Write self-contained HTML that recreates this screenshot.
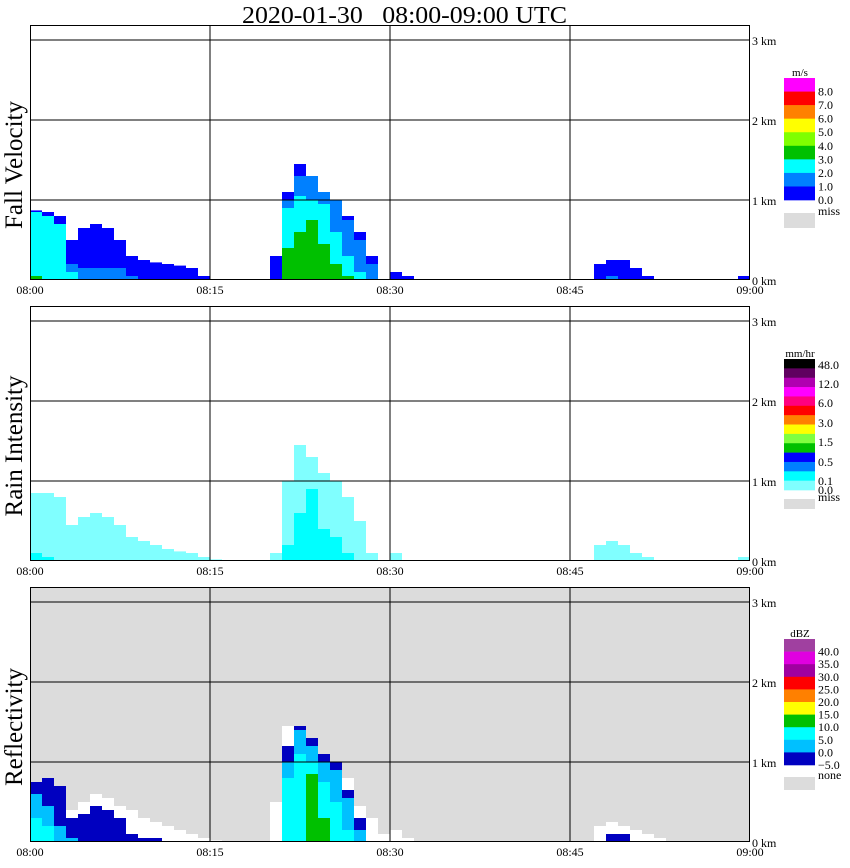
<!DOCTYPE html>
<html><head><meta charset="utf-8"><style>
html,body{margin:0;padding:0;background:#fff;}
svg{display:block;font-family:"Liberation Serif",serif;}
</style></head><body>
<svg id="chart" width="850" height="868" xmlns="http://www.w3.org/2000/svg">
<text x="242" y="23" font-size="24" style="white-space:pre" textLength="325" lengthAdjust="spacingAndGlyphs">2020-01-30   08:00-09:00 UTC</text>
</svg>
<script>
// ---- data: per-minute layer top heights (km), minutes 0..59 ----
const minutes = Array.from({length:60},(_,i)=>i);
const timeTicks = ["08:00","08:15","08:30","08:45","09:00"];
const kmTicks = ["0 km","1 km","2 km","3 km"];
// Fall velocity layers
const fvBlue  = [0.87,0.85,0.8,0.5,0.65,0.7,0.65,0.5,0.3,0.25,0.22,0.2,0.18,0.15,0.05,0,0,0,0,0,0.3,1.1,1.45,1.3,1.1,0.95,0.8,0.6,0.3,0,0.1,0.05,0,0,0,0,0,0,0,0,0,0,0,0,0,0,0,0.2,0.25,0.25,0.15,0.05,0,0,0,0,0,0,0,0.05];
const fvLight = [0.85,0.8,0.7,0.2,0.15,0.15,0.15,0.15,0.05,0,0,0,0,0,0,0,0,0,0,0,0,1.0,1.3,1.3,1.1,1.0,0.75,0.5,0.2,0,0,0,0,0,0,0,0,0,0,0,0,0,0,0,0,0,0,0,0.05,0,0,0,0,0,0,0,0,0,0,0];
const fvCyan  = [0.85,0.8,0.7,0.1,0,0,0,0,0,0,0,0,0,0,0,0,0,0,0,0,0,0.9,1.05,1.0,0.95,0.6,0.3,0.1,0,0,0,0,0,0,0,0,0,0,0,0,0,0,0,0,0,0,0,0,0,0,0,0,0,0,0,0,0,0,0,0];
const fvGreen = [0.05,0,0,0,0,0,0,0,0,0,0,0,0,0,0,0,0,0,0,0,0,0.4,0.6,0.75,0.45,0.2,0.05,0,0,0,0,0,0,0,0,0,0,0,0,0,0,0,0,0,0,0,0,0,0,0,0,0,0,0,0,0,0,0,0,0];
// Rain intensity layers
const riLight = [0.85,0.85,0.8,0.45,0.55,0.6,0.55,0.45,0.3,0.25,0.2,0.15,0.12,0.1,0.05,0.02,0,0,0,0,0.1,1.0,1.45,1.3,1.1,1.0,0.8,0.5,0.1,0,0.1,0,0,0,0,0,0,0,0,0,0,0,0,0,0,0,0,0.2,0.25,0.2,0.1,0.05,0,0,0,0,0,0,0,0.05];
const riCyan  = [0.1,0.05,0,0,0,0,0,0,0,0,0,0,0,0,0,0,0,0,0,0,0,0.2,0.6,0.9,0.4,0.3,0.1,0,0,0,0,0,0,0,0,0,0,0,0,0,0,0,0,0,0,0,0,0,0,0,0,0,0,0,0,0,0,0,0,0];
// Reflectivity layers
const rfWhite = [0.75,0.8,0.7,0.4,0.5,0.6,0.55,0.45,0.4,0.3,0.25,0.2,0.15,0.1,0.05,0.02,0,0,0,0,0.5,1.45,1.45,1.3,1.05,0.95,0.8,0.45,0.3,0.1,0.15,0.05,0,0,0,0,0,0,0,0,0,0,0,0,0,0,0,0.2,0.25,0.2,0.15,0.1,0.05,0,0,0,0,0,0,0];
const rfDark  = [0.75,0.8,0.7,0.3,0.35,0.45,0.4,0.3,0.1,0.05,0.05,0,0,0,0,0,0,0,0,0,0,1.2,1.45,1.3,1.1,1.0,0.65,0.3,0,0,0,0,0,0,0,0,0,0,0,0,0,0,0,0,0,0,0,0,0.1,0.1,0,0,0,0,0,0,0,0,0,0];
const rfLight = [0.6,0.45,0.2,0.05,0,0,0,0,0,0,0,0,0,0,0,0,0,0,0,0,0,1.0,1.4,1.2,1.0,0.9,0.55,0.15,0,0,0,0,0,0,0,0,0,0,0,0,0,0,0,0,0,0,0,0,0,0,0,0,0,0,0,0,0,0,0,0];
const rfCyan  = [0.3,0.2,0,0,0,0,0,0,0,0,0,0,0,0,0,0,0,0,0,0,0,0.8,1.1,1.0,0.75,0.5,0.15,0,0,0,0,0,0,0,0,0,0,0,0,0,0,0,0,0,0,0,0,0,0,0,0,0,0,0,0,0,0,0,0,0];
const rfGreen = [0,0,0,0,0,0,0,0,0,0,0,0,0,0,0,0,0,0,0,0,0,0,0,0.85,0.3,0,0,0,0,0,0,0,0,0,0,0,0,0,0,0,0,0,0,0,0,0,0,0,0,0,0,0,0,0,0,0,0,0];
// legends
const fvColors = ["#ff00ff","#ff0000","#ff8000","#ffff00","#80ff00","#00c000","#00ffff","#0080ff","#0000ff"];
const fvLabels = ["8.0","7.0","6.0","5.0","4.0","3.0","2.0","1.0","0.0"];
const riColors = ["#000000","#600060","#b000b0","#ff00ff","#ff0080","#ff0000","#ff8000","#ffff00","#80ff40","#00c000","#0000ff","#0080ff","#00ffff","#80ffff"];
const riLabels = ["48.0","12.0","6.0","3.0","1.5","0.5","0.1","0.0"];
const rfColors = ["#a040a0","#e000e0","#a000a0","#ff0000","#ff8000","#ffff00","#00c000","#00ffff","#00c0ff","#0000c0"];
const rfLabels = ["40.0","35.0","30.0","25.0","20.0","15.0","10.0","5.0","0.0","−5.0"];

const NS="http://www.w3.org/2000/svg";
const svg=document.getElementById('chart');
function el(tag,attrs,parent){const e=document.createElementNS(NS,tag);for(const k in attrs)e.setAttribute(k,attrs[k]);(parent||svg).appendChild(e);return e;}
const X0=30,W=720;
function xScale(m){return X0+m*W/60;}

function panel(top,title,bg,layers,legend,id){
  const bottom=top+255;
  const yScale=km=>bottom-km*80;
  const g=el('g',{});
  
  
  const r=el('rect',{x:X0,y:top,width:W,height:255,fill:bg},g);
  
  
  layers.forEach(([arr,color,name])=>{
    arr.forEach((v,i)=>{
      if(v<=0)return;
      const b=el('rect',{x:xScale(minutes[i]),y:yScale(v),width:W/60,height:bottom-yScale(v),fill:color},g);
      
      
    });
  });
  for(let k=1;k<=3;k++){
    const l=el('line',{x1:X0,x2:X0+W,y1:yScale(k),y2:yScale(k),stroke:'#000','stroke-width':1},g);
    
    
  }
  for(let k=1;k<=3;k++){
    const l=el('line',{x1:xScale(k*15),x2:xScale(k*15),y1:top,y2:bottom,stroke:'#000','stroke-width':1},g);
    
    
  }
  const fr=el('rect',{x:X0+0.5,y:top+0.5,width:W-1,height:254,fill:'none',stroke:'#000'},g);
  
  
  kmTicks.forEach((t,k)=>{
    const tx=el('text',{x:752,y:yScale(k)+5,'font-size':12},g);tx.textContent=t;
    
    
  });
  timeTicks.forEach((t,k)=>{
    const tx=el('text',{x:xScale(k*15),y:bottom+14,'font-size':12,'text-anchor':'middle'},g);tx.textContent=t;
    
    
  });
  const yt=el('text',{x:0,y:0,'font-size':25,'text-anchor':'middle',transform:`translate(22,${top+140}) rotate(-90)`},g);
  yt.textContent=title;
  
  
  // legend
  const [lt,colors,labels,unit,sw,labY,missLbl,missY,missH]=legend;
  const lg=el('g',{},g);
  
  
  const ut=el('text',{x:800,y:lt-2,'font-size':11,'text-anchor':'middle'},lg);ut.textContent=unit;
  
  
  colors.forEach((c,i)=>{
    const s=el('rect',{x:784,y:lt+i*sw,width:31,height:sw+0.3,fill:c},lg);
    
    
  });
  labels.forEach((t,i)=>{
    const tx=el('text',{x:818,y:labY[i]+4,'font-size':12},lg);tx.textContent=t;
    
    
  });
  const ms=el('rect',{x:784,y:missY,width:31,height:missH,fill:'#dcdcdc'},lg);
  
  
  const mt=el('text',{x:818,y:missY+2,'font-size':12},lg);mt.textContent=missLbl;
  
  
}
const fvLabY=fvLabels.map((_,i)=>78+13.56*(i+1));
panel(25,"Fall Velocity","#ffffff",
  [[fvBlue,'#0000ff','blue'],[fvLight,'#0080ff','lightblue'],[fvCyan,'#00ffff','cyan'],[fvGreen,'#00c000','green']],
  [78,fvColors,fvLabels,"m/s",13.56,fvLabY,"miss",213,15],"fall-velocity");
const riLabY=[365,384,403,423,442,462,481,490];
panel(306,"Rain Intensity","#ffffff",
  [[riLight,'#80ffff','lightcyan'],[riCyan,'#00ffff','cyan']],
  [359,riColors,riLabels,"mm/hr",9.36,riLabY,"miss",499,10],"rain-intensity");
const rfLabY=rfLabels.map((_,i)=>639+12.6*(i+1));
panel(587,"Reflectivity","#dcdcdc",
  [[rfWhite,'#ffffff','white'],[rfDark,'#0000c0','darkblue'],[rfLight,'#00c0ff','lightblue'],[rfCyan,'#00ffff','cyan'],[rfGreen,'#00c000','green']],
  [639,rfColors,rfLabels,"dBZ",12.6,rfLabY,"none",777,13],"reflectivity");
</script>
</body></html>
